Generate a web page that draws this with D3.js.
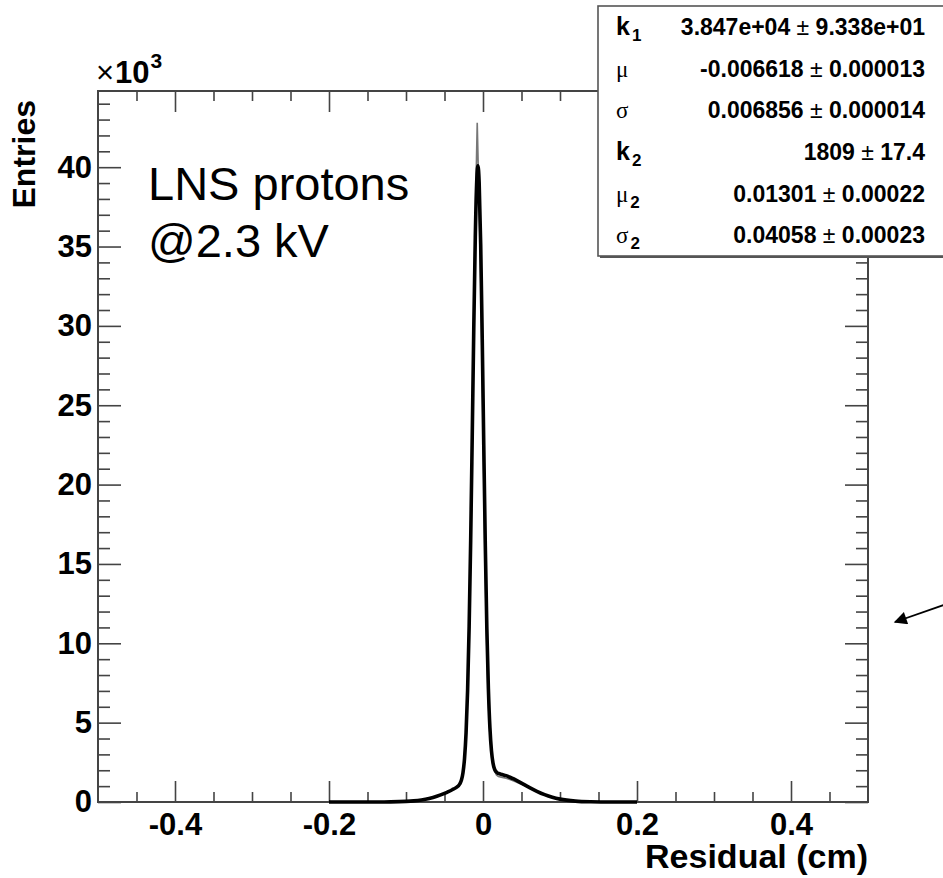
<!DOCTYPE html>
<html>
<head>
<meta charset="utf-8">
<script src="https://cdn.jsdelivr.net/npm/d3@7"></script>
<style>
  body { margin: 0; background: #fff; }
  svg { display: block; font-family: "Liberation Sans", Arial, sans-serif; }
</style>
</head>
<body>
<svg id="chart" width="943" height="878"></svg>
<script>
// residual (cm) and entries (x10^3)
var fitX = [-0.2, -0.18, -0.16, -0.14, -0.12, -0.1, -0.09, -0.08, -0.07, -0.06, -0.05, -0.045, -0.04, -0.035,
  -0.03, -0.028, -0.026, -0.024, -0.022, -0.02, -0.018, -0.016, -0.014, -0.012, -0.010, -0.008, -0.0066,
  -0.005, -0.003, -0.001, 0.001, 0.003, 0.005, 0.007, 0.009, 0.011, 0.013, 0.015, 0.018, 0.02, 0.025,
  0.03, 0.035, 0.04, 0.05, 0.06, 0.07, 0.08, 0.09, 0.1, 0.12, 0.14, 0.16, 0.18, 0.2];
var fitY = [0, 0, 0, 0.002, 0.008, 0.037, 0.072, 0.131, 0.223, 0.359, 0.542, 0.651, 0.771, 0.905,
  1.146, 1.382, 1.847, 2.739, 4.352, 7.027, 11.05, 16.48, 23.0, 29.77, 35.6, 39.28, 40.08,
  39.05, 35.14, 29.2, 22.48, 16.14, 10.93, 7.14, 4.67, 3.22, 2.45, 2.07, 1.86, 1.80, 1.73,
  1.66, 1.56, 1.45, 1.19, 0.925, 0.675, 0.463, 0.299, 0.182, 0.056, 0.014, 0.003, 0, 0];

var histX = [-0.2, -0.15, -0.12, -0.1, -0.08, -0.06, -0.05, -0.04, -0.035, -0.03, -0.0275, -0.0255, -0.0235,
  -0.0215, -0.0195, -0.0175, -0.0155, -0.0135, -0.0115, -0.0095, -0.0075, -0.0055, -0.0035, -0.0015,
  0.0005, 0.0025, 0.0045, 0.0065, 0.0085, 0.0105, 0.0125, 0.0145, 0.0175, 0.02, 0.025, 0.03, 0.035,
  0.04, 0.05, 0.06, 0.07, 0.08, 0.09, 0.1, 0.12, 0.14, 0.16, 0.2];
var histY = [0, 0.005, 0.01, 0.04, 0.13, 0.36, 0.55, 0.78, 0.92, 1.2, 1.5, 2.0, 3.0,
  4.8, 7.8, 12.3, 18.5, 25.5, 32.5, 38.0, 42.8, 38.6, 34.6, 28.6,
  22.0, 15.7, 10.6, 6.9, 4.6, 3.3, 2.5, 2.0, 1.7, 1.6, 1.55, 1.5, 1.42,
  1.32, 1.12, 0.9, 0.66, 0.45, 0.29, 0.18, 0.06, 0.015, 0.005, 0];

var xTicks = [-0.4, -0.2, 0, 0.2, 0.4];
var xTickLabels = ["-0.4", "-0.2", "0", "0.2", "0.4"];
var yTicks = [0, 5, 10, 15, 20, 25, 30, 35, 40];

var statLabels = [["k", "1", true], ["\u03bc", "", false], ["\u03c3", "", false],
  ["k", "2", true], ["\u03bc", "2", false], ["\u03c3", "2", false]];
var statValues = [["3.847e+04", "9.338e+01"], ["-0.006618", "0.000013"], ["0.006856", "0.000014"],
  ["1809", "17.4"], ["0.01301", "0.00022"], ["0.04058", "0.00023"]];

var svg = d3.select("#chart");
var padL = 98, padR = 868, padT = 91, padB = 802;

var x = d3.scaleLinear().domain([-0.5, 0.5]).range([padL, padR]);
var y = d3.scaleLinear().domain([0, 44.8]).range([padB, padT]);

var frameColor = "#444";
var font = "Liberation Sans, Arial, sans-serif";

// minor ticks
var xMinor = d3.range(-9, 10).filter(function(k) { return k % 4 != 0; }).map(function(k) { return k * 0.05; });
var yMinor = d3.range(1, 45, 1).filter(function(v) { return v % 5 != 0; });

function styleAxis(g) {
  g.select(".domain").remove();
  g.selectAll("line").attr("stroke", frameColor).attr("stroke-width", 1.6);
}

// bottom
svg.append("g").attr("transform", "translate(0," + padB + ")")
  .call(d3.axisBottom(x).tickValues(xMinor).tickSizeInner(-10).tickSizeOuter(0).tickFormat(""))
  .call(styleAxis);
svg.append("g").attr("transform", "translate(0," + padB + ")")
  .call(d3.axisBottom(x).tickValues(xTicks).tickSizeInner(-21).tickSizeOuter(0).tickPadding(11)
    .tickFormat(function(d, i) { return xTickLabels[i]; }))
  .call(styleAxis)
  .selectAll("text").attr("font-size", 31).attr("font-weight", "bold").attr("fill", "#000")
  .attr("font-family", font);
// top
svg.append("g").attr("transform", "translate(0," + padT + ")")
  .call(d3.axisTop(x).tickValues(xMinor).tickSizeInner(-10).tickSizeOuter(0).tickFormat(""))
  .call(styleAxis);
svg.append("g").attr("transform", "translate(0," + padT + ")")
  .call(d3.axisTop(x).tickValues(xTicks).tickSizeInner(-21).tickSizeOuter(0).tickFormat(""))
  .call(styleAxis);
// left
svg.append("g").attr("transform", "translate(" + padL + ",0)")
  .call(d3.axisLeft(y).tickValues(yMinor).tickSizeInner(-12).tickSizeOuter(0).tickFormat(""))
  .call(styleAxis);
svg.append("g").attr("transform", "translate(" + padL + ",0)")
  .call(d3.axisLeft(y).tickValues(yTicks).tickSizeInner(-23).tickSizeOuter(0).tickPadding(6))
  .call(styleAxis)
  .selectAll("text").attr("font-size", 31).attr("font-weight", "bold").attr("fill", "#000")
  .attr("font-family", font);
// right
svg.append("g").attr("transform", "translate(" + padR + ",0)")
  .call(d3.axisRight(y).tickValues(yMinor).tickSizeInner(-12).tickSizeOuter(0).tickFormat(""))
  .call(styleAxis);
svg.append("g").attr("transform", "translate(" + padR + ",0)")
  .call(d3.axisRight(y).tickValues(yTicks).tickSizeInner(-23).tickSizeOuter(0).tickFormat(""))
  .call(styleAxis);

// frame
svg.append("rect").attr("x", padL).attr("y", padT).attr("width", padR - padL).attr("height", padB - padT)
  .attr("fill", "none").attr("stroke", frameColor).attr("stroke-width", 2);

// histogram (thin grey) and fit (thick black)
var histLine = d3.line().x(function(d, i) { return x(histX[i]); }).y(function(d) { return y(d); });
svg.append("path").attr("d", histLine(histY))
  .attr("fill", "none").attr("stroke", "#777").attr("stroke-width", 1.6);

var fitLine = d3.line().curve(d3.curveMonotoneX)
  .x(function(d, i) { return x(fitX[i]); }).y(function(d) { return y(d); });
svg.append("path").attr("d", fitLine(fitY))
  .attr("fill", "none").attr("stroke", "#000").attr("stroke-width", 3.6).attr("stroke-linejoin", "round");

// axis titles
svg.append("text").attr("transform", "translate(35,100) rotate(-90)")
  .attr("text-anchor", "end").attr("font-size", 32).attr("font-weight", "bold").text("Entries");
svg.append("text").attr("x", padR).attr("y", 868).attr("text-anchor", "end")
  .attr("font-size", 34).attr("font-weight", "bold").text("Residual (cm)");

var mult = svg.append("text").attr("x", 96).attr("y", 83).attr("font-size", 31);
mult.append("tspan").text("\u00d7");
mult.append("tspan").attr("font-weight", "bold").attr("dx", 1).text("10");
mult.append("tspan").attr("font-weight", "bold").attr("font-size", 21).attr("dx", 1).attr("dy", -15).text("3");

// annotation
svg.append("text").attr("x", 148).attr("y", 200).attr("font-size", 47).text("LNS protons");
svg.append("text").attr("x", 148).attr("y", 257).attr("font-size", 47).text("@2.3 kV");

// stats box
var boxX = 598, boxY = 6, boxH = 250;
svg.append("rect").attr("x", boxX + 2).attr("y", boxY + 2).attr("width", 360).attr("height", boxH)
  .attr("fill", "#555");
svg.append("rect").attr("x", boxX).attr("y", boxY).attr("width", 360).attr("height", boxH)
  .attr("fill", "#fff").attr("stroke", "#555").attr("stroke-width", 1.6);

var rowH = boxH / 6;
statLabels.forEach(function(l, i) {
  var cy = boxY + rowH * (i + 0.5) + 8;
  var t = svg.append("text").attr("x", 616).attr("y", cy).attr("font-size", 23);
  t.append("tspan").attr("font-weight", l[2] ? "bold" : "normal")
    .attr("font-family", l[2] ? font : "Liberation Serif, serif")
    .attr("font-size", l[2] ? 25 : 23).text(l[0]);
  if (l[1]) {
    t.append("tspan").attr("font-weight", "bold").attr("font-size", 17).attr("dx", 2).attr("dy", 6).text(l[1]);
  }
  var v = svg.append("text").attr("x", 925).attr("y", cy).attr("text-anchor", "end")
    .attr("font-size", 23).attr("font-weight", "bold");
  v.append("tspan").text(statValues[i][0] + " ");
  v.append("tspan").attr("font-weight", "normal").text("\u00b1");
  v.append("tspan").text(" " + statValues[i][1]);
});

// arrow pointing in from the right edge
svg.append("defs").append("marker").attr("id", "head").attr("viewBox", "0 0 10 10")
  .attr("refX", 9).attr("refY", 5).attr("markerWidth", 17).attr("markerHeight", 13)
  .attr("markerUnits", "userSpaceOnUse").attr("orient", "auto")
  .append("path").attr("d", "M0,0L10,5L0,10Z").attr("fill", "#000");
svg.append("line").attr("x1", 955).attr("y1", 601).attr("x2", 895).attr("y2", 622)
  .attr("stroke", "#000").attr("stroke-width", 1.8).attr("marker-end", "url(#head)");
</script>
</body>
</html>
